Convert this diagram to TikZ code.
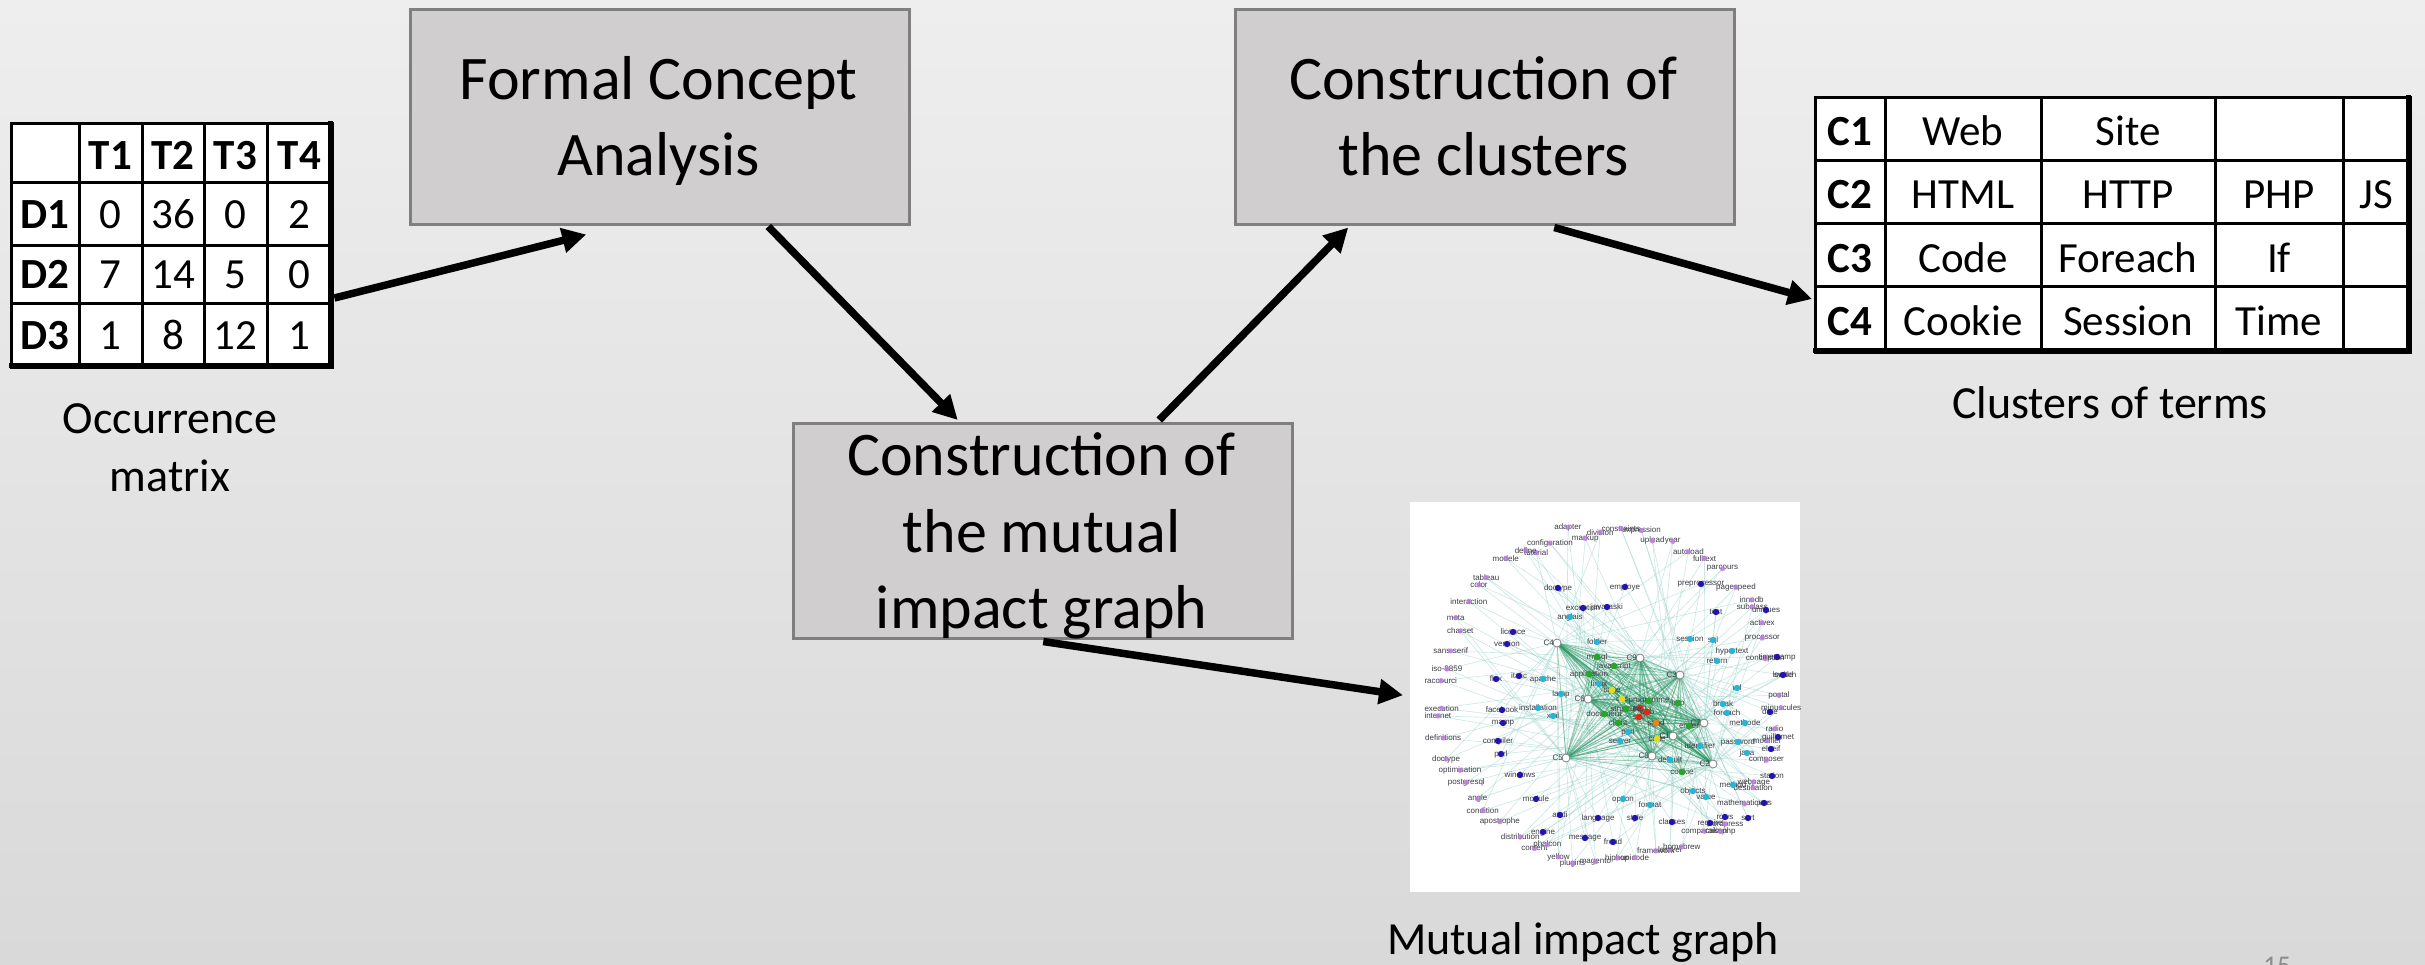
\documentclass[tikz,border=0pt]{standalone}
\usepackage{fontspec}
\setmainfont{Carlito}
\newfontfamily\graphfont{Liberation Sans}
\usetikzlibrary{arrows.meta,calc}
\definecolor{bgtop}{RGB}{238,238,238}
\definecolor{bgbot}{RGB}{217,217,217}
\definecolor{boxfill}{RGB}{208,206,206}
\definecolor{boxline}{RGB}{127,127,127}
\definecolor{pgnum}{RGB}{140,140,140}
\definecolor{ringdot}{RGB}{190,125,225}
\definecolor{bluedot}{RGB}{35,20,175}
\definecolor{cyandot}{RGB}{40,180,215}
\definecolor{greendot}{RGB}{40,165,40}
\definecolor{reddot}{RGB}{225,40,20}
\definecolor{orangedot}{RGB}{235,130,20}
\definecolor{yellowdot}{RGB}{225,220,30}
\definecolor{edgestrong}{RGB}{45,150,100}
\definecolor{edgelight}{RGB}{150,210,200}
\definecolor{glabel}{RGB}{60,60,70}
\begin{document}
\begin{tikzpicture}[x=1pt,y=-1pt,
  procbox/.style={draw=boxline,line width=2.5pt,fill=boxfill,minimum width=499pt,minimum height=215pt,inner sep=0pt,anchor=north west},
  boxtxt/.style={font=\fontsize{62}{74}\selectfont,anchor=base,inner sep=0pt},
  cell/.style={font=\fontsize{43}{50}\selectfont,anchor=base,inner sep=0pt},
  hcell/.style={font=\fontsize{43}{50}\selectfont\bfseries,anchor=base,inner sep=0pt},
  caption/.style={font=\fontsize{46}{55}\selectfont,anchor=base,inner sep=0pt},
  flow/.style={line width=7.5pt,-{Triangle[length=24pt,width=24pt]}},
  gridline/.style={line width=3pt},
  outerline/.style={line width=5pt},
  tablebg/.style={fill=white,inner sep=0pt,anchor=north west},
  lightedge/.style={draw=edgelight,line width=0.6pt,opacity=0.5},
  strongedge/.style={draw=edgestrong,line width=0.8pt,opacity=0.45},
  glab/.style={font=\graphfont\fontsize{8}{9}\selectfont,text=glabel,inner sep=0pt},
  hub/.style={circle,draw=gray,fill=white,line width=0.8pt,minimum size=8pt,inner sep=0pt},
]
% ---------- background ----------
\useasboundingbox (0,0) rectangle (2425,964);
\shade[top color=bgtop,bottom color=bgbot] (0,0) rectangle (2425,964);

% ---------- process boxes ----------
\node[procbox] (fca) at (409,8) {};
\node[boxtxt] (fcaA) at (658.5,99) {Formal Concept};
\node[boxtxt] (fcaB) at (658.5,175) {Analysis};

\node[procbox] (clu) at (1234,8) {};
\node[boxtxt] (cluA) at (1483.5,99) {Construction of};
\node[boxtxt] (cluB) at (1483.5,175) {the clusters};

\node[procbox] (mig) at (792,422) {};
\node[boxtxt] (migA) at (1041.5,475) {Construction of};
\node[boxtxt] (migB) at (1041.5,552) {the mutual};
\node[boxtxt] (migC) at (1041.5,628) {impact graph};

% ---------- occurrence matrix ----------
\node[tablebg,minimum width=321pt,minimum height=244pt] (occ) at (11,123) {};
\foreach \xx in {79,142,204,267} \draw[gridline] (\xx,123) -- (\xx,367);
\foreach \yy in {182,245,303} \draw[gridline] (11,\yy) -- (332,\yy);
\draw[gridline] (occ.north west) rectangle (occ.south east);
\draw[outerline] (330,121) -- (330,365) -- (9,365);
\node[hcell] (mT1) at (110.5,169) {T1};
\node[hcell] (mT2) at (173,169) {T2};
\node[hcell] (mT3) at (235.5,169) {T3};
\node[hcell] (mT4) at (299.5,169) {T4};
\node[hcell] (mD1) at (45,228) {D1};
\node[hcell] (mD2) at (45,288) {D2};
\node[hcell] (mD3) at (45,349) {D3};
\node[cell] (m11) at (110.5,228) {0};
\node[cell] (m12) at (173,228) {36};
\node[cell] (m13) at (235.5,228) {0};
\node[cell] (m14) at (299.5,228) {2};
\node[cell] (m21) at (110.5,288) {7};
\node[cell] (m22) at (173,288) {14};
\node[cell] (m23) at (235.5,288) {5};
\node[cell] (m24) at (299.5,288) {0};
\node[cell] (m31) at (110.5,349) {1};
\node[cell] (m32) at (173,349) {8};
\node[cell] (m33) at (235.5,349) {12};
\node[cell] (m34) at (299.5,349) {1};
\node[caption] (occcapA) at (170,433) {Occurrence};
\node[caption] (occcapB) at (170,491) {matrix};

% ---------- clusters table ----------
\node[tablebg,minimum width=595pt,minimum height=255pt] (clt) at (1815,97) {};
\foreach \xx in {1885,2041,2215,2343} \draw[gridline] (\xx,97) -- (\xx,352);
\foreach \yy in {160,223,286} \draw[gridline] (1815,\yy) -- (2410,\yy);
\draw[gridline] (clt.north west) rectangle (clt.south east);
\draw[outerline] (2408,95) -- (2408,350) -- (1813,350);
\node[hcell] (cC1) at (1850,145) {C1};
\node[hcell] (cC2) at (1850,208) {C2};
\node[hcell] (cC3) at (1850,272) {C3};
\node[hcell] (cC4) at (1850,335) {C4};
\node[cell] (c11) at (1963,145) {Web};
\node[cell] (c12) at (2128,145) {Site};
\node[cell] (c21) at (1963,208) {HTML};
\node[cell] (c22) at (2128,208) {HTTP};
\node[cell] (c23) at (2279,208) {PHP};
\node[cell] (c24) at (2376.5,208) {JS};
\node[cell] (c31) at (1963,272) {Code};
\node[cell] (c32) at (2128,272) {Foreach};
\node[cell] (c33) at (2279,272) {If};
\node[cell] (c41) at (1963,335) {Cookie};
\node[cell] (c42) at (2128,335) {Session};
\node[cell] (c43) at (2279,335) {Time};
\node[caption] (cltcap) at (2110,418) {Clusters of terms};

% ---------- mutual impact graph picture ----------
\node[fill=white,inner sep=0pt,minimum width=390pt,minimum height=390pt,anchor=north west] (img) at (1410,502) {};
\begin{scope}
\clip (1410,502) rectangle (1800,892);
\coordinate (h1) at (1673,736);
\coordinate (h2) at (1713,764);
\coordinate (h3) at (1680,675);
\coordinate (h4) at (1557,643);
\coordinate (h5) at (1566,758);
\coordinate (h6) at (1588,699);
\coordinate (h7) at (1704,723);
\coordinate (h8) at (1652,756);
\coordinate (h9) at (1640,658);
\def\ringlist{activex,subclass,innodb,pagespeed,parcours,fulltext,autoload,year,upload,expression,constraints,division,markup,adapter,configuration,tutorial,define,modele,tableau,color,interaction,meta,charset,sans-serif,iso-8859,raccourci,execution,internet,definitions,doctype,optimisation,postgresql,angle,condition,apostrophe,distribution,content,phalcon,yellow,plugins,magento,hiphop,unicode,framework,laravel,homebrew,comparaison,cakephp,wordpress,mathematiques,destination,webpage,composer,modifier,radio,minuscules,postal,switch,conception,processor}
\def\bluelist{1558/588/doctype,1625/587/employe,1701/584/preprocessor,1583/608/exception,1607/607/javaraski,1716/612/test,1766/610/uniques,1777/657/timestamp,1783/675/locale,1770/712/date,1778/737/guillemet,1771/749/elseif,1772/776/station,1764/803/xor,1748/818/sort,1725/817/rows,1710/823/require,1672/822/classes,1635/818/style,1598/818/language,1560/815/andi,1585/838/message,1613/842/fread,1543/832/engine,1536/799/module,1520/775/windows,1501/754/perl,1498/741/compiler,1503/723/mamp,1502/710/facebook,1496/679/flex,1519/676/italic,1507/644/version,1513/632/licence}
\def\cyanlist{1570/617/anglais,1597/642/folder,1543/679/apache,1561/694/lamp,1599/684/linux,1538/708/installation,1553/716/xml,1628/732/perl,1620/741/server,1670/760/default,1700/746/identifier,1690/639/session,1713/640/sql,1717/661/return,1732/651/hypertext,1737/688/url,1723/704/break,1727/713/foreach,1745/723/methode,1738/742/password,1747/753/java,1693/791/objects,1706/797/value,1733/785/method,1623/799/option,1650/805/format}
\def\corelist{1640/708/reddot/php,1647/712/reddot/web,1639/717/reddot/site,1656/723/orangedot/sgbd,1622/699/yellowdot/css,1657/739/yellowdot/code,1614/666/greendot/javascript,1589/674/greendot/application,1649/701/greendot/programme,1678/703/greendot/http,1626/709/greendot/structure,1604/714/greendot/document,1618/723/greendot/client,1689/726/greendot/entier,1682/772/greendot/cookie,1597/657/greendot/mysql,1612/690/yellowdot/base}
\pgfmathsetseed{7}
% ring coordinates and faint edges
\foreach \w [count=\i] in \ringlist {
  \pgfmathsetmacro{\ang}{-20-6*\i+2*rand}
  \pgfmathsetmacro{\px}{1608+(170+9*rand)*cos(\ang)}
  \pgfmathsetmacro{\py}{697+(166+9*rand)*sin(\ang)}
  \coordinate (r\i) at (\px,\py);
  \pgfmathtruncatemacro{\ha}{mod(\i,9)+1}
  \pgfmathtruncatemacro{\hb}{mod(\i*4+2,9)+1}
  \draw[lightedge] (r\i) -- (h\ha);
  \draw[lightedge] (r\i) -- (h\hb);
}
\foreach \x/\y/\w [count=\i] in \bluelist {
  \pgfmathtruncatemacro{\ha}{mod(\i,9)+1}
  \pgfmathtruncatemacro{\hb}{mod(\i*5+3,9)+1}
  \draw[lightedge] (\x,\y) -- (h\ha);
  \draw[lightedge] (\x,\y) -- (h\hb);
}
\foreach \x/\y/\w [count=\i] in \cyanlist {
  \pgfmathtruncatemacro{\ha}{mod(\i,9)+1}
  \pgfmathtruncatemacro{\hb}{mod(\i*2+5,9)+1}
  \draw[lightedge] (\x,\y) -- (h\ha);
  \draw[lightedge] (\x,\y) -- (h\hb);
}
% strong edges
\foreach \x/\y/\c/\w in \corelist {
  \foreach \k in {1,...,9} \draw[strongedge] (\x,\y) -- (h\k);
}
\foreach \a in {1,...,9} {
  \foreach \b in {1,...,9} {
    \ifnum\a<\b \draw[strongedge] (h\a) -- (h\b); \fi
  }
}
% dots and labels
\foreach \w [count=\i] in \ringlist {
  \node[glab] at (r\i) {\w};
  \fill[ringdot,opacity=0.85] (r\i) circle (2.6pt);
}
\foreach \x/\y/\w in \bluelist {
  \node[glab] at (\x,\y) {\w};
  \fill[bluedot] (\x,\y) circle (3.2pt);
}
\foreach \x/\y/\w in \cyanlist {
  \node[glab] at (\x,\y) {\w};
  \fill[cyandot] (\x,\y) circle (3.2pt);
}
\foreach \x/\y/\c/\w in \corelist {
  \node[glab] at (\x,\y) {\w};
  \fill[\c] (\x,\y) circle (3.4pt);
}
\foreach \k in {1,...,9} {
  \node[hub] (hc\k) at (h\k) {};
  \node[glab,anchor=east] at ($(h\k)+(-3,0)$) {C\k};
}
\end{scope}
\node[caption] (imgcap) at (1583,954) {Mutual impact graph};

% ---------- page number ----------
\node[font=\fontsize{27}{30}\selectfont,text=pgnum,anchor=base,inner sep=0pt] (pnum) at (2277,974) {15};

% ---------- flow arrows ----------
\draw[flow] ($(occ.north east)+(2,175)$) -- ($(fca.south)+(-73.5,9)$);
\draw[flow] ($(fca.south)+(108.5,1)$) -- ($(mig.north)+(-85,-2)$);
\draw[flow] ($(mig.north)+(116.5,-2)$) -- ($(clu.south)+(-136.5,2)$);
\draw[flow] ($(clu.south)+(69.5,2)$) -- ($(clt.north west)+(-3,202)$);
\draw[flow] ($(mig.south)+(0.5,2)$) -- ($(img.west)+(-7,-2)$);
\end{tikzpicture}
\end{document}
